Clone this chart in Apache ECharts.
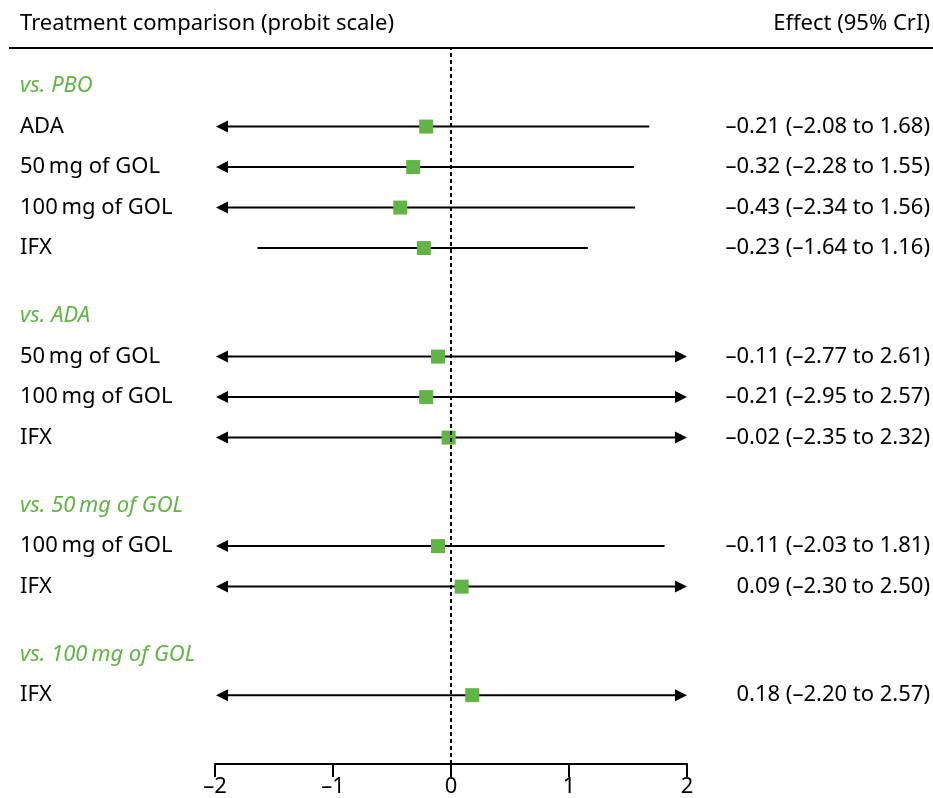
<!DOCTYPE html>
<html><head><meta charset="utf-8">
<script src="https://cdn.jsdelivr.net/npm/echarts@6/dist/echarts.min.js"></script>
<style>html,body{margin:0;padding:0;background:#fff}#c{width:933px;height:798px}</style>
</head><body><div id="c"></div>
<script>
const groupNames = ['vs. PBO', 'vs. ADA', 'vs. 50\u2009mg of GOL', 'vs. 100\u2009mg of GOL'];
const rowLabels = ['ADA', '50\u2009mg of GOL', '100\u2009mg of GOL', 'IFX', '50\u2009mg of GOL', '100\u2009mg of GOL', 'IFX', '100\u2009mg of GOL', 'IFX', 'IFX'];
const rowGroup = [0, 0, 0, 0, 1, 1, 1, 2, 2, 3];
const estimates = [-0.21, -0.32, -0.43, -0.23, -0.11, -0.21, -0.02, -0.11, 0.09, 0.18];
const lower = [-2.08, -2.28, -2.34, -1.64, -2.77, -2.95, -2.35, -2.03, -2.30, -2.20];
const upper = [1.68, 1.55, 1.56, 1.16, 2.61, 2.57, 2.32, 1.81, 2.50, 2.57];
const xTicks = [-2, -1, 0, 1, 2];

const GAP = 1.68;
const XMIN = -2, XMAX = 2;
const FONT = '"Noto Sans", "Open Sans", sans-serif';
const FS = 22;
const GREEN = '#62b446';
const fmt = v => v.toFixed(2).replace('-', '\u2013');

// layout rows (row units, counted downward -> negative on the y axis)
const headerPos = [];
const rowPos = [];
let pos = 0;
groupNames.forEach((g, gi) => {
  headerPos.push(-pos);
  rowGroup.forEach((rg, i) => { if (rg === gi) { pos += 1; rowPos[i] = -pos; } });
  pos += GAP;
});

const rowData = estimates.map((e, i) => [e, lower[i], upper[i], rowPos[i], i]);
const headerData = headerPos.map((p, i) => [0, p, i]);

const chart = echarts.init(document.getElementById('c'), null, {renderer: 'canvas'});

function renderRow(params, api) {
  const i = api.value(4);
  const est = api.value(0), lo = api.value(1), hi = api.value(2), yv = api.value(3);
  const y = api.coord([0, yv])[1];
  const xl = api.coord([Math.max(lo, XMIN), yv])[0];
  const xr = api.coord([Math.min(hi, XMAX), yv])[0];
  const xe = api.coord([est, yv])[0];
  const children = [];
  const AH = 12, AW = 6;
  let ls = xl, le = xr;
  if (lo < XMIN) {
    children.push({type: 'polygon', shape: {points: [[xl + 1, y], [xl + 1 + AH, y - AW], [xl + 1 + AH, y + AW]]}, style: {fill: '#000'}});
    ls = xl + AH;
  }
  if (hi > XMAX) {
    children.push({type: 'polygon', shape: {points: [[xr, y], [xr - AH, y - AW], [xr - AH, y + AW]]}, style: {fill: '#000'}});
    le = xr - AH + 1;
  }
  children.push({type: 'line', shape: {x1: ls, y1: y, x2: le, y2: y}, style: {stroke: '#000', lineWidth: 2}});
  children.push({type: 'rect', shape: {x: xe - 7, y: y - 7, width: 14, height: 14}, style: {fill: GREEN}});
  children.push({type: 'text', style: {x: 20, y: y, text: rowLabels[i], font: FS + 'px ' + FONT, fill: '#000', align: 'left', verticalAlign: 'middle'}});
  children.push({type: 'text', style: {x: 930, y: y, text: fmt(est) + ' (' + fmt(lo) + ' to ' + fmt(hi) + ')', font: FS + 'px ' + FONT, fill: '#000', align: 'right', verticalAlign: 'middle'}});
  return {type: 'group', children};
}

function renderHeader(params, api) {
  const i = api.value(2);
  const y = api.coord([0, api.value(1)])[1];
  return {type: 'text', style: {x: 20, y: y, text: groupNames[i], font: 'italic ' + FS + 'px ' + FONT, fill: GREEN, align: 'left', verticalAlign: 'middle'}};
}

chart.setOption({
  animation: false,
  backgroundColor: '#fff',
  grid: {left: 215, right: 246, top: 48, bottom: 34},
  xAxis: {
    type: 'value', min: XMIN, max: XMAX, interval: 1, position: 'bottom',
    axisLine: {show: true, onZero: false, lineStyle: {color: '#000', width: 2}},
    axisTick: {show: true, length: 13, inside: false, lineStyle: {color: '#000', width: 2}},
    axisLabel: {color: '#000', fontSize: FS, fontFamily: FONT, margin: 12, formatter: v => xTicks.includes(v) ? String(v).replace('-', '\u2013') : ''},
    splitLine: {show: false}
  },
  yAxis: {
    type: 'value', min: -16.74, max: 0.94, show: false
  },
  graphic: [
    {type: 'text', x: 20, y: 24, style: {text: 'Treatment comparison (probit scale)', font: FS + 'px ' + FONT, fill: '#000', align: 'left', verticalAlign: 'middle'}},
    {type: 'text', x: 930, y: 24, style: {text: 'Effect (95% CrI)', font: FS + 'px ' + FONT, fill: '#000', align: 'right', verticalAlign: 'middle'}},
    {type: 'line', shape: {x1: 9, y1: 48, x2: 933, y2: 48}, style: {stroke: '#000', lineWidth: 2}}
  ],
  series: [
    {
      type: 'custom', renderItem: renderRow, data: rowData, clip: false,
      encode: {x: [0, 1, 2], y: 3}, z: 3,
      markLine: {
        silent: true, symbol: 'none', label: {show: false},
        lineStyle: {color: '#000', type: [4, 3], width: 2},
        data: [{xAxis: 0}]
      }
    },
    {type: 'custom', renderItem: renderHeader, data: headerData, clip: false, encode: {x: 0, y: 1}}
  ]
});
</script>
</body></html>
